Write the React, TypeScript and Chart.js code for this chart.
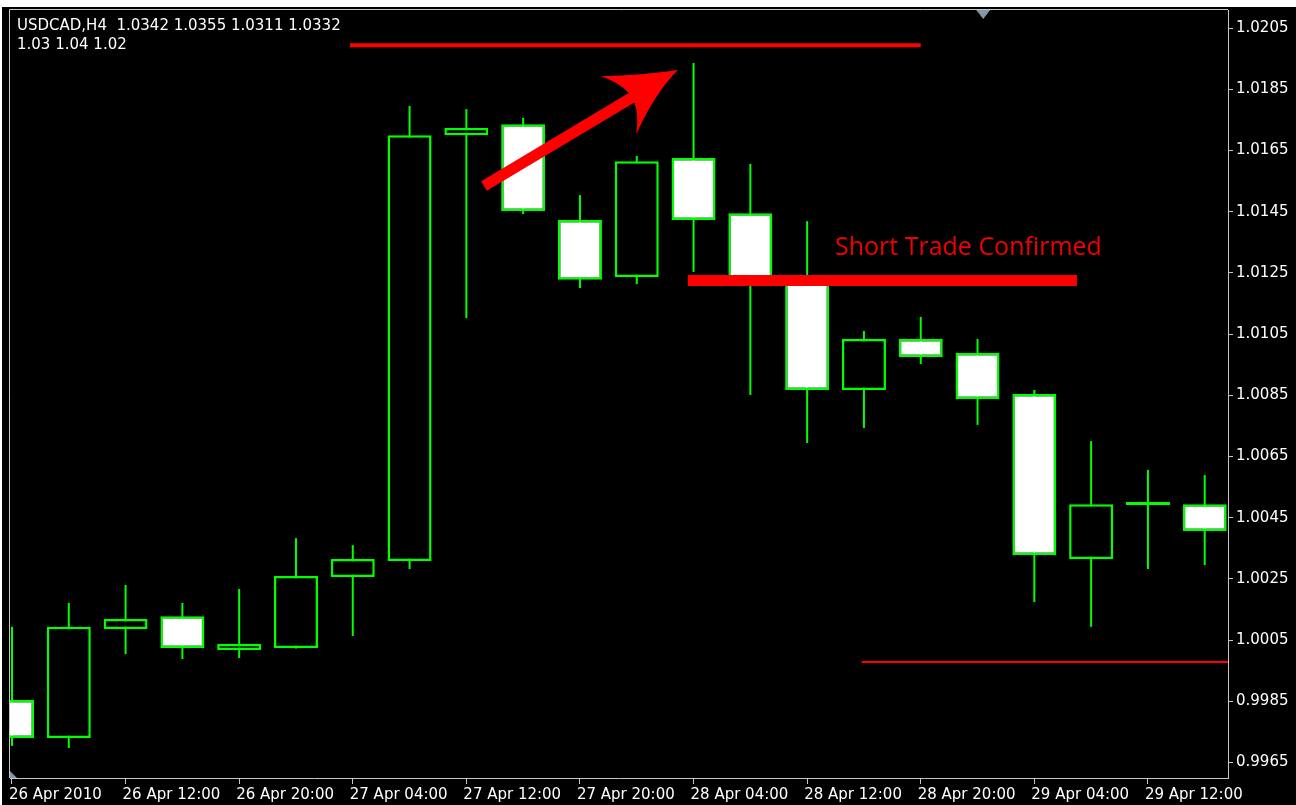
import React, { useEffect, useRef } from "react";
import { Chart, registerables } from "chart.js";

Chart.register(...registerables);

// ---- data (H4 candles, index = bar number) ----
const barIndex = [0, 1, 2, 3, 4, 5, 6, 7, 8, 9, 10, 11, 12, 13, 14, 15, 16, 17, 18, 19, 20, 21];
const opens = [0.99854, 0.9973, 1.00086, 1.00128, 1.00017, 1.00024, 1.00256, 1.00308, 1.017, 1.01736, 1.01423, 1.01236, 1.01625, 1.01445, 1.0122, 1.00867, 1.01034, 1.00988, 1.00854, 1.00315, 1.00491, 1.00494];
const highs = [1.00093, 1.00171, 1.0023, 1.00171, 1.00217, 1.00383, 1.0036, 1.01795, 1.01785, 1.01756, 1.01504, 1.01632, 1.01936, 1.01606, 1.01419, 1.0106, 1.01106, 1.01034, 1.00867, 1.007, 1.00606, 1.00589];
const lows = [0.99704, 0.99697, 1.00004, 0.99988, 0.99991, 1.00022, 1.00063, 1.00282, 1.01102, 1.01442, 1.012, 1.01213, 1.01253, 1.00851, 1.00694, 1.00743, 1.00952, 1.00753, 1.00174, 1.00093, 1.00282, 1.00295];
const closes = [0.9973, 1.00093, 1.00119, 1.00024, 1.00037, 1.00259, 1.00315, 1.017, 1.01723, 1.01452, 1.01227, 1.01615, 1.01423, 1.01227, 1.00867, 1.01034, 1.00975, 1.00838, 1.00328, 1.00494, 1.00491, 1.00406];

const xTickIndex = [0, 2, 4, 6, 8, 10, 12, 14, 16, 18, 20];
const xTickLabels = ["26 Apr 2010", "26 Apr 12:00", "26 Apr 20:00", "27 Apr 04:00", "27 Apr 12:00", "27 Apr 20:00", "28 Apr 04:00", "28 Apr 12:00", "28 Apr 20:00", "29 Apr 04:00", "29 Apr 12:00"];
const yTickValues = [0.9965, 0.9985, 1.0005, 1.0025, 1.0045, 1.0065, 1.0085, 1.0105, 1.0125, 1.0145, 1.0165, 1.0185, 1.0205];
const xRange = [-0.035, 21.41];
const yRange = [0.99599, 1.02109];

const headerLines = ["USDCAD,H4  1.0342 1.0355 1.0311 1.0332", "1.03 1.04 1.02"];

// annotations: [fromIndex, toIndex, price]
const topLine = [5.95, 16.0, 1.01994];
const confirmLine = [11.9, 18.75, 1.01225];
const stopLine = [14.96, 21.41, 0.99978];
const arrowFrom = [8.31, 1.01534];
const arrowTo = [11.725, 1.01913];
const noteText = "Short Trade Confirmed";
const notePos = [14.49, 1.01331];
const shiftMarkerIndex = 17.1;

const GREEN = "#00ff00";
const RED = "#ff0000";
const FRAME = "#c8c8c8";
const TEXT = "#ffffff";
const AXIS_FONT = { family: "'DejaVu Sans', sans-serif", size: 15 };

const decorPlugin = {
  id: "decor",
  beforeDraw(chart: any) {
    const { ctx, width, height } = chart;
    ctx.save();
    ctx.fillStyle = "#ffffff";
    ctx.fillRect(0, 0, width, height);
    ctx.fillStyle = "#000000";
    ctx.fillRect(2, 7, width - 2, height - 7);
    ctx.restore();
  },
  afterDatasetsDraw(chart: any) {
    const { ctx, chartArea: a } = chart;
    const x = chart.scales.x;
    const y = chart.scales.y;
    ctx.save();
    ctx.beginPath();
    ctx.rect(a.left, a.top, a.right - a.left, a.bottom - a.top);
    ctx.clip();

    const hline = (l: number[], w: number) => {
      const py = y.getPixelForValue(l[2]);
      ctx.strokeStyle = RED;
      ctx.lineWidth = w;
      ctx.lineCap = "butt";
      ctx.beginPath();
      ctx.moveTo(x.getPixelForValue(l[0]), py);
      ctx.lineTo(x.getPixelForValue(l[1]), py);
      ctx.stroke();
    };
    hline(topLine, 4);
    hline(confirmLine, 11);
    hline(stopLine, 2);

    // arrow
    const sx = x.getPixelForValue(arrowFrom[0]);
    const sy = y.getPixelForValue(arrowFrom[1]);
    const tx = x.getPixelForValue(arrowTo[0]);
    const ty = y.getPixelForValue(arrowTo[1]);
    const dx = tx - sx, dy = ty - sy;
    const len = Math.hypot(dx, dy);
    const ux = dx / len, uy = dy / len;
    const nx = -uy, ny = ux;
    const P = (back: number, side: number): [number, number] => [tx - back * ux + side * nx, ty - back * uy + side * ny];
    ctx.fillStyle = RED;
    ctx.strokeStyle = RED;
    ctx.lineWidth = 11;
    ctx.beginPath();
    ctx.moveTo(sx, sy);
    ctx.lineTo(...P(52, 0));
    ctx.stroke();
    ctx.beginPath();
    ctx.moveTo(tx, ty);
    ctx.quadraticCurveTo(...P(34, -14), ...P(69, -34));
    ctx.quadraticCurveTo(...P(56, -18), ...P(54, -5.5));
    ctx.lineTo(...P(54, 5.5));
    ctx.quadraticCurveTo(...P(56, 18), ...P(69, 34));
    ctx.quadraticCurveTo(...P(32, 8), tx, ty);
    ctx.closePath();
    ctx.fill();

    // note text
    ctx.fillStyle = "#f00000";
    ctx.font = "25px 'Open Sans', sans-serif";
    ctx.textAlign = "left";
    ctx.textBaseline = "middle";
    ctx.fillText(noteText, x.getPixelForValue(notePos[0]), y.getPixelForValue(notePos[1]));
    ctx.restore();
  },
  afterDraw(chart: any) {
    const { ctx, chartArea: a } = chart;
    const x = chart.scales.x;
    ctx.save();
    // frame
    ctx.strokeStyle = FRAME;
    ctx.lineWidth = 1;
    ctx.beginPath();
    ctx.moveTo(a.left - 0.5, a.bottom);
    ctx.lineTo(a.left - 0.5, a.top - 0.5);
    ctx.lineTo(a.right, a.top - 0.5);
    ctx.stroke();
    // shift marker (top)
    const mx = x.getPixelForValue(shiftMarkerIndex);
    ctx.fillStyle = "#8596a8";
    ctx.beginPath();
    ctx.moveTo(mx - 7, a.top);
    ctx.lineTo(mx + 7, a.top);
    ctx.lineTo(mx, a.top + 9);
    ctx.closePath();
    ctx.fill();
    // small marker bottom-left
    ctx.beginPath();
    ctx.moveTo(a.left, a.bottom - 7);
    ctx.lineTo(a.left, a.bottom);
    ctx.lineTo(a.left + 7, a.bottom);
    ctx.closePath();
    ctx.fill();
    // header
    ctx.fillStyle = TEXT;
    ctx.font = "15px 'DejaVu Sans', sans-serif";
    ctx.textAlign = "left";
    ctx.textBaseline = "middle";
    ctx.fillText(headerLines[0], 17, 26);
    ctx.fillText(headerLines[1], 17, 45);
    ctx.restore();
  },
};

export default function App() {
  const ref = useRef<HTMLCanvasElement>(null);
  useEffect(() => {
    const canvas = ref.current;
    if (!canvas) return;
    const chart = new Chart(canvas, {
      type: "bar",
      data: {
        datasets: [
          {
            label: "body",
            data: barIndex.map((i, k) => ({ x: i, y: [opens[k], closes[k]] })) as any,
            backgroundColor: barIndex.map((_, k) => (closes[k] < opens[k] ? "#ffffff" : "#000000")),
            borderColor: GREEN,
            borderWidth: 2.5,
            borderSkipped: false,
            barThickness: 44,
            minBarLength: 3,
            grouped: false,
            inflateAmount: 0,
            order: 0,
            clip: 0,
          } as any,
          {
            label: "wick",
            data: barIndex.map((i, k) => ({ x: i, y: [lows[k], highs[k]] })) as any,
            backgroundColor: GREEN,
            borderWidth: 0,
            barThickness: 2,
            grouped: false,
            inflateAmount: 0,
            order: 1,
            clip: 0,
          } as any,
        ],
      },
      options: {
        responsive: false,
        animation: false,
        devicePixelRatio: 1,
        layout: { padding: { left: 10, top: 10, right: 0, bottom: 0 } },
        plugins: { legend: { display: false }, tooltip: { enabled: false }, title: { display: false } },
        scales: {
          x: {
            type: "linear",
            offset: false,
            min: xRange[0],
            max: xRange[1],
            afterBuildTicks: (s: any) => {
              s.ticks = xTickIndex.map((v) => ({ value: v }));
            },
            afterFit: (s: any) => {
              s.height = 27;
              s.paddingLeft = 0;
              s.paddingRight = 0;
            },
            grid: { offset: false, drawOnChartArea: false, drawTicks: true, tickLength: 6, color: FRAME, lineWidth: 1 },
            border: { display: true, color: FRAME, width: 1 },
            ticks: {
              autoSkip: false,
              maxRotation: 0,
              minRotation: 0,
              align: "start",
              labelOffset: -3,
              padding: 2,
              color: TEXT,
              font: AXIS_FONT,
              callback: (v: any) => {
                const k = xTickIndex.indexOf(Number(v));
                return k >= 0 ? xTickLabels[k] : "";
              },
            },
          },
          y: {
            type: "linear",
            position: "right",
            min: yRange[0],
            max: yRange[1],
            afterBuildTicks: (s: any) => {
              s.ticks = yTickValues.map((v) => ({ value: v }));
            },
            afterFit: (s: any) => {
              s.width = 68;
              s.paddingTop = 0;
              s.paddingBottom = 0;
            },
            grid: { drawOnChartArea: false, drawTicks: true, tickLength: 5, color: FRAME, lineWidth: 1 },
            border: { display: true, color: FRAME, width: 1 },
            ticks: {
              crossAlign: "near",
              padding: 3,
              color: TEXT,
              font: AXIS_FONT,
              callback: (v: any) => Number(v).toFixed(4),
            },
          },
        },
      } as any,
      plugins: [decorPlugin],
    });
    return () => chart.destroy();
  }, []);
  return (
    <div style={{ position: "absolute", left: 0, top: 0, width: 1296, height: 805, overflow: "hidden" }}>
      <canvas ref={ref} width={1296} height={805} style={{ display: "block", width: 1296, height: 805 }} />
    </div>
  );
}
